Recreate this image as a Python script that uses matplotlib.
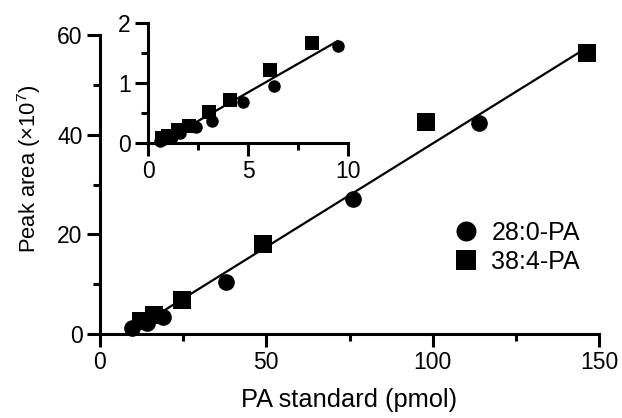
import numpy as np
import matplotlib
matplotlib.use("Agg")
import matplotlib.pyplot as plt
from matplotlib.ticker import MultipleLocator

plt.rcParams['font.family'] = ['Liberation Sans', 'DejaVu Sans']
plt.rcParams['mathtext.fontset'] = 'custom'
plt.rcParams['mathtext.rm'] = 'Liberation Sans'

# Main data
pa28_x = [9.5, 14.2, 19.0, 38.0, 76.0, 114.0]
pa28_y = [1.3, 2.2, 3.4, 10.4, 27.0, 42.3]
pa38_x = [12.2, 16.3, 24.5, 49.0, 98.0, 146.5]
pa38_y = [2.6, 3.9, 6.8, 18.0, 42.5, 56.4]

# Inset data
in28_x = [0.6, 0.8, 1.2, 1.6, 2.4, 3.2, 4.75, 6.3, 9.5]
in28_y = [0.04, 0.07, 0.10, 0.16, 0.27, 0.37, 0.69, 0.95, 1.61]
in38_x = [0.7, 1.0, 1.5, 2.05, 3.05, 4.1, 6.1, 8.2]
in38_y = [0.08, 0.12, 0.22, 0.28, 0.51, 0.71, 1.21, 1.66]

labels = ['28:0-PA', '38:4-PA']
xlabel = 'PA standard (pmol)'
ylabel = r'Peak area (×10$^{\mathrm{7}}$)'

W, H = 622, 418
fig = plt.figure(figsize=(W / 100, H / 100), dpi=100)

def px_axes(x0, x1, y0, y1):
    return fig.add_axes([x0 / W, 1 - y1 / H, (x1 - x0) / W, (y1 - y0) / H])

def style(ax, xmaj, xmin, ymaj, ymin, fs):
    for s in ['top', 'right']:
        ax.spines[s].set_visible(False)
    for s in ['left', 'bottom']:
        ax.spines[s].set_linewidth(2.2)
        ax.spines[s].set_capstyle('projecting')
    ax.xaxis.set_major_locator(MultipleLocator(xmaj))
    ax.xaxis.set_minor_locator(MultipleLocator(xmin))
    ax.yaxis.set_major_locator(MultipleLocator(ymaj))
    ax.yaxis.set_minor_locator(MultipleLocator(ymin))
    ax.tick_params(which='major', length=9.5, width=2.2, labelsize=fs, pad=3)
    ax.tick_params(which='minor', length=5, width=2.2)

def fit_line(ax, xs, ys, lw):
    xs = np.asarray(xs, float); ys = np.asarray(ys, float)
    k, b = np.polyfit(xs, ys, 1)
    xx = np.array([xs.min(), xs.max()])
    ax.plot(xx, k * xx + b, color='black', lw=lw, zorder=2, solid_capstyle='butt')

# Main axes
ax = px_axes(100, 599, 35, 334)
ax.set_xlim(0, 150)
ax.set_ylim(0, 60)
style(ax, 50, 25, 20, 10, 16.5)
fit_line(ax, pa28_x + pa38_x, pa28_y + pa38_y, 1.6)
ax.plot(pa28_x, pa28_y, 'o', color='black', ms=12, mew=0, label=labels[0], clip_on=False, zorder=3)
ax.plot(pa38_x, pa38_y, 's', color='black', ms=12.5, mew=0, label=labels[1], clip_on=False, zorder=3)
ax.set_xlabel(xlabel, fontsize=18.3, labelpad=10)
ax.set_ylabel(ylabel, fontsize=15.8)
ax.yaxis.set_label_coords(-0.114, 0.552)
leg = ax.legend(loc='upper left', bbox_to_anchor=(0.689, 0.411), frameon=False,
                fontsize=18, markerscale=1.2, handlelength=1.0, handletextpad=0.5,
                labelspacing=0.2, borderaxespad=0)

# Inset axes
ax2 = px_axes(148.3, 348.3, 23, 143)
ax2.set_xlim(0, 10)
ax2.set_ylim(0, 2)
ax2.patch.set_alpha(0)
style(ax2, 5, 2.5, 1, 0.5, 16.5)
fit_line(ax2, in28_x + in38_x, in28_y + in38_y, 1.6)
ax2.plot(in28_x, in28_y, 'o', color='black', ms=9, mew=0, clip_on=False, zorder=3)
ax2.plot(in38_x, in38_y, 's', color='black', ms=9.5, mew=0, clip_on=False, zorder=3)

fig.savefig('out.png', dpi=100)
